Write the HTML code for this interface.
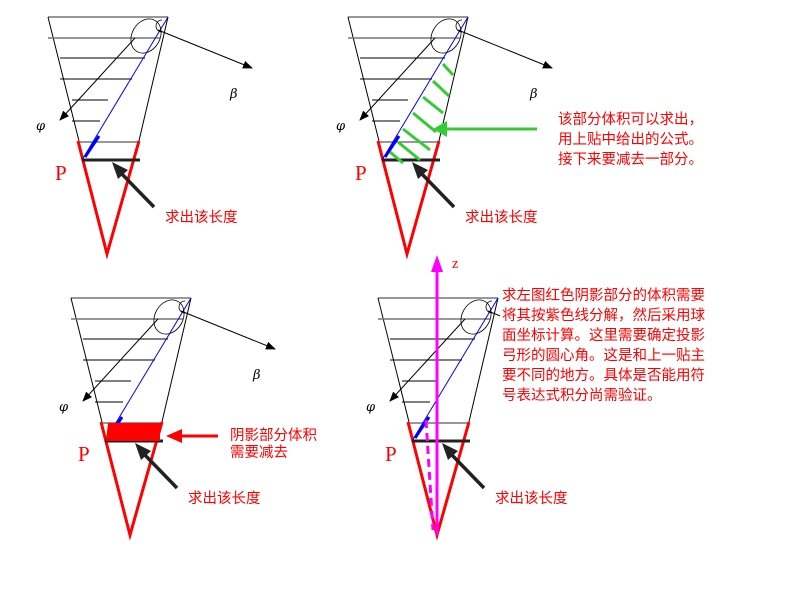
<!DOCTYPE html>
<html><head><meta charset="utf-8"><style>
body{margin:0;background:#fff}
svg text{font-family:"Liberation Sans","Noto Sans CJK SC",sans-serif;font-size:14.5px;fill:#f00}
</style></head><body>
<svg width="800" height="600" viewBox="0 0 800 600" xmlns="http://www.w3.org/2000/svg">
<defs>
<marker id="ah" markerWidth="10" markerHeight="8" refX="9" refY="4" orient="auto" markerUnits="userSpaceOnUse"><path d="M0,0 L10,4 L0,8z" fill="#000"/></marker>
<g id="cone">
<line x1="48" y1="17" x2="168" y2="17" stroke="#777" stroke-width="1.5"/>
<line x1="48" y1="17" x2="80" y2="145" stroke="#000"/>
<line x1="168" y1="17" x2="138" y2="145" stroke="#000"/>
<line x1="48" y1="38" x2="160" y2="38" stroke="#777" stroke-width="1.5"/>
<line x1="60" y1="58" x2="145" y2="58" stroke="#000"/>
<line x1="60" y1="79" x2="132" y2="79" stroke="#000"/>
<line x1="72" y1="100" x2="108" y2="100" stroke="#000"/>
<line x1="72" y1="121" x2="100" y2="121" stroke="#000"/>
<line x1="80" y1="142" x2="138" y2="142" stroke="#777" stroke-width="1.5"/>
<path d="M78,141 L107,254 L139,141" fill="none" stroke="#f00" stroke-width="3"/>
<line x1="82" y1="160" x2="168" y2="17" stroke="#00f" stroke-width="1"/>
<line x1="85" y1="157" x2="99" y2="136" stroke="#00f" stroke-width="3"/>
<line x1="82" y1="160" x2="140" y2="160" stroke="#222" stroke-width="3"/>
<ellipse cx="146" cy="36" rx="14" ry="18" transform="rotate(30 146 36)" fill="none" stroke="#000" stroke-width="0.8"/>
<path d="M162,20 a5,5 0 1 0 0,12" fill="none" stroke="#000" stroke-width="0.8"/>
<line x1="135" y1="38" x2="60" y2="120" stroke="#000" marker-end="url(#ah)"/>
<line x1="158" y1="30" x2="252" y2="68" stroke="#000" marker-end="url(#ah)"/>
<text x="36" y="130" style="font-style:italic;fill:#000;font-size:13px;font-family:'DejaVu Serif',serif">φ</text>
<text x="230" y="98" style="font-style:italic;fill:#000;font-size:13px;font-family:'DejaVu Serif',serif">β</text>
<text x="55" y="180" style="font-family:'Liberation Serif',serif;font-size:21px">P</text>
<line x1="154" y1="207" x2="120" y2="172" stroke="#222" stroke-width="3.5"/>
<path d="M112,162 L128,170 L118,179z" fill="#222"/>
<text x="165" y="222">求出该长度</text>
</g>
</defs>
<use href="#cone" x="0" y="0"/>
<use href="#cone" x="300" y="0"/>
<use href="#cone" x="23" y="281"/>
<use href="#cone" x="330" y="281"/>
<!-- green hatch -->
<g stroke="#3c3" stroke-width="3">
<line x1="443" y1="64" x2="453" y2="75"/>
<line x1="433" y1="81" x2="449" y2="96"/>
<line x1="423" y1="97" x2="443" y2="113"/>
<line x1="413" y1="113" x2="436" y2="132"/>
<line x1="403" y1="129" x2="430" y2="150"/>
<line x1="398" y1="142" x2="420" y2="160"/>
<line x1="390" y1="152" x2="403" y2="163"/>
</g>
<line x1="445" y1="129" x2="537" y2="129" stroke="#3c3" stroke-width="3"/>
<path d="M433,129 L447,121 L447,137z" fill="#3c3"/>
<text x="558" y="124">该部分体积可以求出，</text>
<text x="558" y="144">用上贴中给出的公式。</text>
<text x="558" y="164">接下来要减去一部分。</text>
<!-- red shaded -->
<path d="M108,423 L160,423 L160,441 L106,441z" fill="#f00"/>
<line x1="178" y1="436" x2="218" y2="436" stroke="#f00" stroke-width="3"/>
<path d="M166,436 L182,429 L182,443z" fill="#f00"/>
<text x="230" y="440">阴影部分体积</text>
<text x="230" y="457">需要减去</text>
<!-- z axis -->
<line x1="437" y1="265" x2="437" y2="535" stroke="#f0f" stroke-width="3"/>
<path d="M437,255 L431,272 L443,272z" fill="#f0f"/>
<line x1="426" y1="420" x2="433" y2="530" stroke="#f0f" stroke-width="3" stroke-dasharray="8,5"/>
<text x="452" y="268" style="font-family:'Liberation Serif',serif">z</text>
<rect x="500" y="284" width="220" height="125" fill="#fff"/>
<text x="502" y="300">求左图红色阴影部分的体积需要</text>
<text x="502" y="320">将其按紫色线分解，然后采用球</text>
<text x="502" y="340">面坐标计算。这里需要确定投影</text>
<text x="502" y="360">弓形的圆心角。这是和上一贴主</text>
<text x="502" y="380">要不同的地方。具体是否能用符</text>
<text x="502" y="400">号表达式积分尚需验证。</text>
</svg>
</body></html>
